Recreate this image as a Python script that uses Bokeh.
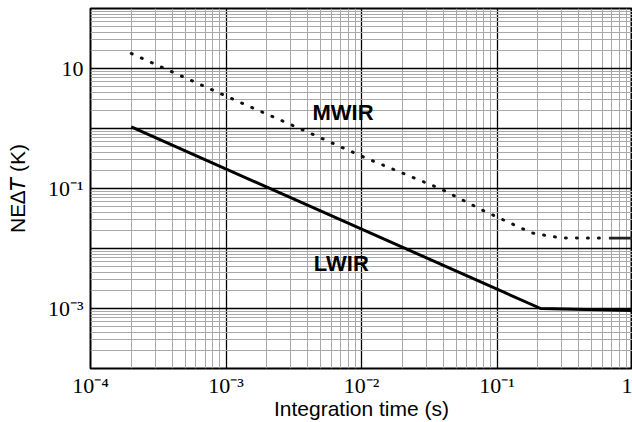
from bokeh.plotting import figure
from bokeh.models import FixedTicker, Label
from bokeh.embed import file_html
from bokeh.resources import INLINE

# Integration time (s) and noise-equivalent temperature difference (K)
lwir_t = [2e-4, 0.21, 1.0]
lwir_netd = [1.06, 1.0e-3, 0.93e-3]

mwir_t = [2e-4, 1.25e-3, 3.5e-3, 0.0107, 0.0387, 0.08, 0.18, 0.25, 0.31, 0.45, 0.67]
mwir_netd = [17.8, 2.77, 1.0, 0.324, 0.098, 0.0424, 0.0182, 0.0159, 0.0150, 0.0149, 0.0149]
mwir_tail_t = [0.67, 1.0]
mwir_tail_netd = [0.0149, 0.0149]

x_ticks = [1e-4, 1e-3, 1e-2, 1e-1, 1.0]
x_tick_labels = ["10\u207b\u2074", "10\u207b\u00b3", "10\u207b\u00b2", "10\u207b\u00b9", "1"]
y_ticks = [1e-4, 1e-3, 1e-2, 1e-1, 1.0, 10.0, 100.0]
y_tick_labels = ["", "10\u207b\u00b3", "", "10\u207b\u00b9", "", "10", ""]

SERIF = "Liberation Serif"
SANS = "Liberation Sans"


def minor_decades(lo_exp, hi_exp):
    out = []
    for e in range(lo_exp, hi_exp):
        for k in range(2, 10):
            out.append(k * 10.0 ** e)
    return out


p = figure(width=632, height=422, x_axis_type="log", y_axis_type="log",
           x_range=(1e-4, 1.0), y_range=(1e-4, 1e2),
           output_backend="svg", toolbar_location=None,
           min_border_left=90, min_border_right=0,
           min_border_top=8, min_border_bottom=54)
p.background_fill_color = "white"
p.border_fill_color = "white"
p.outline_line_color = "black"
p.outline_line_width = 2

xt = FixedTicker(ticks=x_ticks, minor_ticks=minor_decades(-4, 0))
yt = FixedTicker(ticks=y_ticks, minor_ticks=minor_decades(-4, 2))
p.xaxis.ticker = xt
p.yaxis.ticker = yt
p.xgrid.ticker = xt
p.ygrid.ticker = yt
p.xaxis.major_label_overrides = dict(zip(x_ticks, x_tick_labels))
p.yaxis.major_label_overrides = dict(zip(y_ticks, y_tick_labels))

for ax in (p.xaxis, p.yaxis):
    ax.axis_line_color = None
    ax.major_tick_line_color = None
    ax.minor_tick_line_color = None
    ax.major_tick_out = 0
    ax.minor_tick_out = 0
    ax.major_label_text_font = SERIF
    ax.major_label_text_font_size = "22px"
    ax.major_label_text_color = "black"
    ax.axis_label_text_font = SANS
    ax.axis_label_text_font_size = "21px"
    ax.axis_label_text_font_style = "normal"
    ax.axis_label_text_color = "black"

p.xaxis.axis_label = "Integration time (s)"
p.yaxis.axis_label = "NE\u2206\U0001D61B (K)"
p.xaxis.major_label_standoff = 4
p.xaxis.axis_label_standoff = -4
p.yaxis.major_label_standoff = 7
p.yaxis.axis_label_standoff = 16

for g in (p.xgrid, p.ygrid):
    g.grid_line_color = "black"
    g.grid_line_width = 1.3
    g.grid_line_alpha = 1.0
    g.minor_grid_line_color = "#a8a8a8"
    g.minor_grid_line_width = 1

# LWIR: solid curve
p.line(lwir_t, lwir_netd, line_color="black", line_width=3)

# MWIR: dotted curve, closing into a solid run at long integration times
p.line(mwir_t, mwir_netd, line_color="#111111", line_width=3,
       line_dash="1 10", line_cap="round")
p.line(mwir_tail_t, mwir_tail_netd, line_color="#222222", line_width=2.8)

label_style = dict(text_font=SANS, text_font_size="22px", text_font_style="bold",
                   text_color="black", text_align="center", text_baseline="middle")
p.add_layout(Label(x=7.3e-3, y=1.87, text="MWIR", **label_style))
p.add_layout(Label(x=7.1e-3, y=5.6e-3, text="LWIR", **label_style))

open("out.html", "w").write(file_html(p, INLINE))
